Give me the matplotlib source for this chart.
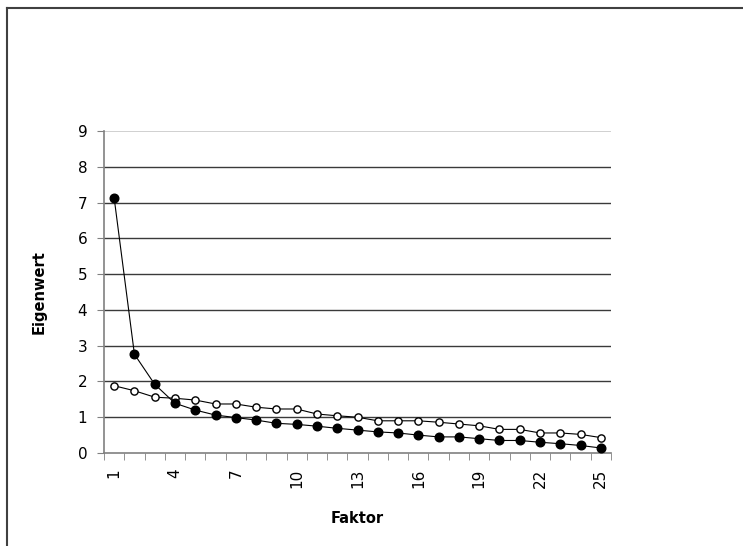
"""Screeplot: Eigenwerte vs. Parallelanalyse. Ausgabe: out.png"""
import matplotlib
matplotlib.use("Agg")
import matplotlib.pyplot as plt
from matplotlib.lines import Line2D

faktoren = list(range(1, 26))
eigenwerte = [7.13, 2.76, 1.92, 1.39, 1.20, 1.06, 0.99, 0.92, 0.83, 0.80,
              0.75, 0.69, 0.64, 0.59, 0.56, 0.50, 0.45, 0.45, 0.40, 0.35,
              0.35, 0.30, 0.26, 0.21, 0.14]
parallel = [1.88, 1.74, 1.56, 1.53, 1.48, 1.37, 1.37, 1.28, 1.23, 1.23,
            1.09, 1.04, 1.00, 0.90, 0.90, 0.90, 0.86, 0.81, 0.76, 0.66,
            0.66, 0.56, 0.56, 0.52, 0.43]
y_ticks = list(range(0, 10))
x_labels = [1, 4, 7, 10, 13, 16, 19, 22, 25]

plt.rcParams.update({"font.family": "DejaVu Sans", "font.size": 10})
fig = plt.figure(figsize=(7.43, 5.46), dpi=100)
ax = fig.add_axes([104 / 743, 1 - 453 / 546, 507 / 743, 322 / 546])

# Rahmen um die Grafik (rechts/unten abgeschnitten)
fig.add_artist(Line2D([7 / 743, 1.0], [1 - 8 / 546] * 2, transform=fig.transFigure,
                      color="#404040", lw=1.5))
fig.add_artist(Line2D([7 / 743] * 2, [0.0, 1 - 8 / 546], transform=fig.transFigure,
                      color="#404040", lw=1.5))

# Gitterlinien
for v in y_ticks[1:-1]:
    ax.axhline(v, color="#3a3a3a", lw=1.0, zorder=1)
ax.axhline(9, color="#c8c8c8", lw=1.2, zorder=1)

ax.plot(faktoren, parallel, color="black", lw=0.8, marker="o", ms=5.2,
        mfc="white", mec="black", mew=1.0, zorder=3)
ax.plot(faktoren, eigenwerte, color="black", lw=0.8, marker="o", ms=6.2,
        mfc="black", mec="black", zorder=4)

ax.set_xlim(0.5, 25.5)
ax.set_ylim(0, 9)
ax.set_yticks(y_ticks)
ax.tick_params(axis="y", length=5, color="#808080", pad=7, labelsize=11)
ax.set_xticks(x_labels)
ax.set_xticklabels([str(v) for v in x_labels], rotation=90)
ax.set_xticks([i + 0.5 for i in range(0, 26)], minor=True)
ax.tick_params(axis="x", which="major", length=0, pad=11, labelsize=11)
ax.tick_params(axis="x", which="minor", length=5, color="#808080")

for s in ["top", "right"]:
    ax.spines[s].set_visible(False)
for s in ["left", "bottom"]:
    ax.spines[s].set_color("#808080")
    ax.spines[s].set_linewidth(1.2)

ax.set_ylabel("Eigenwert", fontweight="bold", fontsize=10.5, labelpad=22)
ax.set_xlabel("Faktor", fontweight="bold", fontsize=10.5, labelpad=17)

fig.savefig("out.png", dpi=100, facecolor="white")
